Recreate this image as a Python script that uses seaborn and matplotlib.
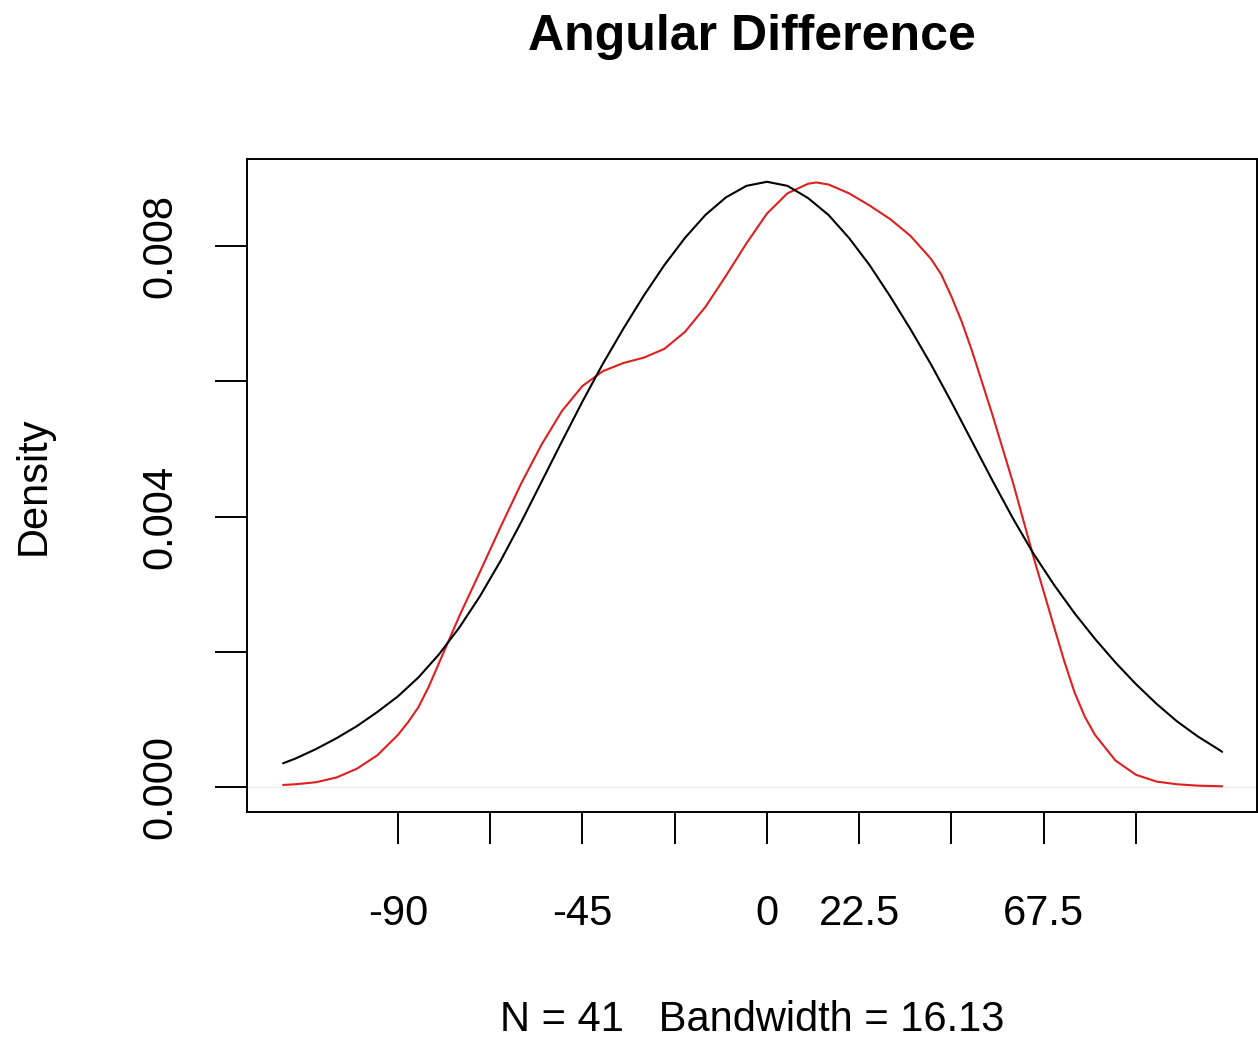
import matplotlib
matplotlib.use("Agg")
import matplotlib.pyplot as plt
import pandas as pd
import seaborn as sns

# ---- data ----
normal_x = [-118, -115, -110, -105, -100, -95, -90, -85, -80, -75, -70, -65, -60, -55,
            -50, -45, -40, -35, -30, -25, -20, -15, -10, -5, 0, 5, 10, 15, 20, 25, 30,
            35, 40, 45, 50, 55, 60, 65, 70, 75, 80, 85, 90, 95, 100, 105, 110, 111]
normal_y = [0.00035, 0.00042, 0.00056, 0.00072, 0.00090, 0.00111, 0.00134, 0.00162,
            0.00196, 0.00236, 0.00282, 0.00334, 0.00391, 0.00451, 0.00511, 0.00570,
            0.00626, 0.00678, 0.00727, 0.00772, 0.00812, 0.00846, 0.00872, 0.00889,
            0.00895, 0.00889, 0.00871, 0.00846, 0.00812, 0.00772, 0.00726, 0.00677,
            0.00625, 0.00569, 0.00511, 0.00453, 0.00397, 0.00345, 0.00299, 0.00257,
            0.00219, 0.00184, 0.00152, 0.00123, 0.00097, 0.00075, 0.00056, 0.00052]

kde_x = [-118, -115, -110, -105, -100, -95, -90, -87.5, -85, -82.5, -80, -75, -70, -65,
         -60, -55, -50, -45, -40, -35, -30, -25, -20, -15, -10, -5, 0, 5, 10, 12, 15,
         20, 25, 30, 35, 40, 42.5, 45, 47.5, 50, 55, 60, 65, 70, 72.5, 75, 77.5, 80,
         85, 90, 95, 100, 105, 111]
kde_y = [0.00003, 0.00004, 0.00007, 0.00014, 0.00027, 0.00047, 0.00077, 0.00096,
         0.00118, 0.00148, 0.00183, 0.00253, 0.00318, 0.00384, 0.00448, 0.00506,
         0.00556, 0.00593, 0.00615, 0.00627, 0.00635, 0.00648, 0.00673, 0.00710,
         0.00756, 0.00804, 0.00848, 0.00878, 0.00892, 0.00894, 0.00891, 0.00878,
         0.00860, 0.00840, 0.00815, 0.00781, 0.00758, 0.00725, 0.00688, 0.00645,
         0.00550, 0.00450, 0.00340, 0.00237, 0.00186, 0.00140, 0.00104, 0.00077,
         0.00039, 0.00018, 0.00008, 0.00004, 0.00002, 0.00001]

x_ticks = [-90, -67.5, -45, -22.5, 0, 22.5, 45, 67.5, 90]
x_tick_labels = ["-90", "", "-45", "", "0", "22.5", "", "67.5", ""]
y_ticks = [0.000, 0.002, 0.004, 0.006, 0.008]
y_tick_labels = ["0.000", "", "0.004", "", "0.008"]

title = "Angular Difference"
x_label = "N = 41   Bandwidth = 16.13"
y_label = "Density"

# ---- style ----
sns.set_style("ticks")
plt.rcParams['font.family'] = ['Liberation Sans', 'DejaVu Sans']

W, H = 1258, 1053
fig = plt.figure(figsize=(W / 100, H / 100), dpi=100)
ax = fig.add_axes([247 / W, 1 - 812 / H, 1010 / W, 653 / H])

df_norm = pd.DataFrame({"x": normal_x, "density": normal_y})
df_kde = pd.DataFrame({"x": kde_x, "density": kde_y})

ax.axhline(0, color="#ececec", lw=1.0, zorder=0)
sns.lineplot(data=df_kde, x="x", y="density", color="#df1f1f", lw=1.5, ax=ax)
sns.lineplot(data=df_norm, x="x", y="density", color="black", lw=1.5, ax=ax)

ax.set_xlim(-126.8, 119.5)
ax.set_ylim(-0.00037, 0.009287)

ax.set_xticks(x_ticks)
ax.set_xticklabels(x_tick_labels)
ax.set_yticks(y_ticks)
ax.set_yticklabels(y_tick_labels)

ax.tick_params(axis="both", which="major", direction="out", length=23, width=1.4,
               color="black", labelsize=30, labelcolor="black",
               bottom=True, left=True, top=False, right=False)
ax.tick_params(axis="x", pad=36)
ax.tick_params(axis="y", pad=25, labelrotation=90)
for lab in ax.get_yticklabels():
    lab.set_va("center")

for sp in ax.spines.values():
    sp.set_visible(True)
    sp.set_color("black")
    sp.set_linewidth(1.4)

ax.set_xlabel(x_label, fontsize=30, color="black")
ax.xaxis.label.set_va("center")
ax.xaxis.set_label_coords(0.5, (812 - 1020) / 653)
ax.set_ylabel(y_label, fontsize=30, color="black")
ax.yaxis.set_label_coords((54 - 247) / 1010, 0.5)

ax.set_title(title, fontsize=36, fontweight="bold", color="black",
             y=(812 - 45) / 653, va="center")

fig.savefig("out.png", dpi=100, facecolor="white")
